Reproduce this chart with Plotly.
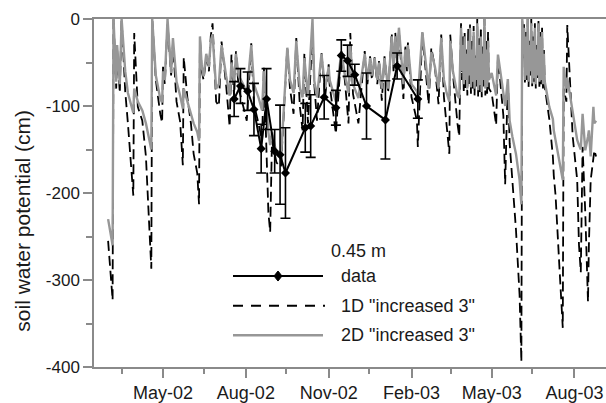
import pandas as pd
import plotly.graph_objects as go

# ---------------- observed soil water potential at 0.45 m ----------------
obs_dates = ["2002-07-19", "2002-07-26", "2002-08-03", "2002-08-10", "2002-08-18",
             "2002-08-24", "2002-09-02", "2002-09-08", "2002-09-14", "2002-10-06",
             "2002-10-12", "2002-10-27", "2002-11-09", "2002-11-15", "2002-11-22",
             "2002-11-30", "2002-12-13", "2003-01-03", "2003-01-16", "2003-02-08"]
obs_psi = [-92, -77, -83, -104, -149, -92, -152, -156, -177, -125,
           -123, -90, -102, -42, -48, -64, -100, -116, -54, -92]
obs_err = [20, 20, 22, 30, 28, 35, 25, 57, 52, 28,
           36, 25, 20, 18, 18, 12, 38, 45, 15, 22]

# ---------------- simulations, Mar 2002 - Mar 2003 (turning points) ----------------
sim_dates = [
    "2002-03-01", "2002-03-06", "2002-03-07", "2002-03-10", "2002-03-11", "2002-03-14",
    "2002-03-16", "2002-03-20", "2002-03-23", "2002-03-26", "2002-03-29", "2002-03-30",
    "2002-04-03", "2002-04-08", "2002-04-12", "2002-04-15", "2002-04-18", "2002-04-19",
    "2002-04-23", "2002-04-28", "2002-04-30",
    "2002-05-01", "2002-05-03", "2002-05-06", "2002-05-10", "2002-05-12", "2002-05-16",
    "2002-05-20", "2002-05-23", "2002-05-24", "2002-05-28",
    "2002-06-01", "2002-06-04", "2002-06-08", "2002-06-10", "2002-06-11", "2002-06-13",
    "2002-06-15", "2002-06-18", "2002-06-21", "2002-06-23", "2002-06-25", "2002-06-29",
    "2002-07-02", "2002-07-05", "2002-07-10", "2002-07-14", "2002-07-16", "2002-07-19",
    "2002-07-21", "2002-07-24", "2002-07-29",
    "2002-08-02", "2002-08-07", "2002-08-10", "2002-08-15", "2002-08-19", "2002-08-21",
    "2002-08-24", "2002-08-26", "2002-08-28", "2002-08-30",
    "2002-09-04", "2002-09-09", "2002-09-16", "2002-09-19", "2002-09-23", "2002-09-26",
    "2002-09-30",
    "2002-10-03", "2002-10-05", "2002-10-09", "2002-10-14", "2002-10-16", "2002-10-19",
    "2002-10-24", "2002-10-28",
    "2002-11-01", "2002-11-02", "2002-11-09", "2002-11-15", "2002-11-19", "2002-11-23",
    "2002-11-25", "2002-11-28",
    "2002-12-04", "2002-12-11", "2002-12-14", "2002-12-17", "2002-12-19", "2002-12-22",
    "2002-12-25", "2002-12-27", "2002-12-30",
    "2003-01-02", "2003-01-06", "2003-01-10", "2003-01-12", "2003-01-14", "2003-01-16",
    "2003-01-18", "2003-01-23", "2003-01-25", "2003-01-27", "2003-01-28",
    "2003-02-01", "2003-02-07", "2003-02-08", "2003-02-13", "2003-02-18", "2003-02-20",
    "2003-02-23", "2003-02-27",
    "2003-03-03", "2003-03-06", "2003-03-09", "2003-03-12", "2003-03-15", "2003-03-16",
    "2003-03-19", "2003-03-24", "2003-03-26", "2003-03-28",
]
sim_1d = [
    -255, -323, 0, -80, -35, -85,
    0, -83, -120, -162, -203, -16,
    -101, -117, -158, -223, -287, 0,
    -70, -110, -119,
    -55, -75, -5, -65, -28, -95,
    -118, -168, -44, -90,
    -120, -155, -177, -213, -20, -60,
    -70, -45, -60, -20, -5, -95,
    -100, -26, -75, -124, -41, -90,
    -37, -80, -100,
    -117, -28, -98, -120, -140, -55,
    -169, -222, -245, -140,
    -165, -170, -33, -80, -109, -22,
    -101,
    -128, -39, -120, -15, -75, -117,
    -39, -90,
    -52, -75, -132, -37, -71, -120,
    -16, -86,
    -120, -37, -75, -43, -70, -44,
    -75, -47, -94,
    -43, -85, -16, -60, -16, -55,
    -13, -92, -30, -60, -27,
    -90, -117, -147, -16, -71, -98,
    -33, -56,
    -98, -18, -90, -120, -155, -18,
    -63, -120, -135, -5,
]
sim_2d = [
    -230, -260, 0, -72, -30, -75,
    0, -60, -85, -98, -108, -80,
    -95, -105, -120, -135, -150, 0,
    -65, -92, -96,
    -60, -70, 0, -62, -22, -72,
    -88, -103, -80, -95,
    -110, -120, -130, -140, -20, -54,
    -66, -40, -55, -25, -18, -80,
    -75, -30, -65, -88, -50, -75,
    -40, -65, -75,
    -85, -30, -75, -90, -105, -60,
    -110, -130, -145, -130,
    -155, -160, -33, -70, -85, -25,
    -80,
    -90, -45, -90, 0, -71, -90,
    -40, -80,
    -55, -70, -95, -37, -65, -85,
    -30, -75,
    -91, -40, -70, -45, -65, -45,
    -70, -50, -80,
    -45, -80, -20, -55, -20, -50,
    -10, -75, -35, -55, -30,
    -75, -83, -90, -15, -65, -80,
    -38, -55,
    -80, -22, -70, -85, -95, -25,
    -60, -88, -91, -10,
]

# daily values through the wet spell of spring 2003
wet1_start = "2003-03-29"
wet1_1d = [-70, -20, -85, -15, -80, -35, -88, -10, -75, -5,
           -86, -25, -80, -8, -88, -40, -78, 0, -90, -20,
           -84, -10, -90, -30, -78, 0, -88, -25, -86, -15]
wet1_2d = [-60, -30, -75, -20, -70, -40, -80, -25, -65, -10,
           -78, -35, -72, -15, -80, -45, -70, -5, -82, -30,
           -76, -20, -84, -40, -70, 0, -80, -35, -78, -25]

# drying phase of May 2003
spring_dates = ["2003-04-28", "2003-05-01", "2003-05-06", "2003-05-08", "2003-05-14",
                "2003-05-16", "2003-05-19", "2003-05-21", "2003-05-24", "2003-05-28",
                "2003-06-01", "2003-06-03", "2003-06-04"]
spring_1d = [-80, -85, -122, -43, -111, -190, -69, -143, -185, -242, -317, -394, 0]
spring_2d = [-70, -62, -88, -41, -85, -100, -69, -117, -135, -155, -185, -213, 0]

# daily values through the wet spell of June 2003
wet2_start = "2003-06-05"
wet2_1d = [-45, -5, -75, -15, -70, 0, -78, -25, -65, 0,
           -80, -20, -72, -5, -80, -30, -70, 0, -78, -15,
           -75, -10, -80, -35, -78]
wet2_2d = [-40, -10, -70, -20, -65, 0, -72, -30, -60, -5,
           -74, -25, -68, -10, -75, -35, -65, -5, -72, -20,
           -70, -15, -75, -40, -72]

# summer 2003
late_dates = ["2003-07-04", "2003-07-08", "2003-07-09", "2003-07-11", "2003-07-15",
              "2003-07-19", "2003-07-20", "2003-07-23", "2003-07-24", "2003-07-30",
              "2003-08-04", "2003-08-06", "2003-08-08", "2003-08-10", "2003-08-13",
              "2003-08-16", "2003-08-17", "2003-08-19", "2003-08-22", "2003-08-23",
              "2003-08-25"]
late_1d = [-115, -158, -180, -203, -280, -355, -80, -95, -7, -135,
           -185, -260, -291, -147, -223, -325, -260, -185, -160, -151, -158]
late_2d = [-101, -115, -128, -140, -160, -185, -55, -80, -68, -109,
           -139, -145, -150, -109, -151, -135, -128, -158, -101, -120, -117]

# axis ticks
x_ticks = ["2002-05-01", "2002-08-01", "2002-11-01", "2003-02-01", "2003-05-01", "2003-08-01"]
x_minor = ["2002-03-16", "2002-06-15", "2002-09-15", "2002-12-16", "2003-03-17", "2003-06-15"]
y_ticks = [0, -100, -200, -300, -400]
y_labels = ["0", "-100", "-200", "-300", "-400"]
y_minor = [-50, -150, -250, -350]


def daily(start, n):
    return pd.date_range(start, periods=n, freq="D").strftime("%Y-%m-%d").tolist()


all_dates = (sim_dates + daily(wet1_start, len(wet1_1d)) + spring_dates
             + daily(wet2_start, len(wet2_1d)) + late_dates)
all_1d = sim_1d + wet1_1d + spring_1d + wet2_1d + late_1d
all_2d = sim_2d + wet1_2d + spring_2d + wet2_2d + late_2d

FONT = "Liberation Sans, Arial, Helvetica, sans-serif"
TXT = "#1a1a1a"
AXC = "#8a8a8a"
GRAY = "#979797"

fig = go.Figure()
fig.add_trace(go.Scatter(x=all_dates, y=all_1d, mode="lines", name='1D "increased 3"',
                         line=dict(color="black", width=1.8, dash="10px,5px"),
                         showlegend=False))
fig.add_trace(go.Scatter(x=all_dates, y=all_2d, mode="lines", name='2D "increased 3"',
                         line=dict(color=GRAY, width=2.4), showlegend=False))
fig.add_trace(go.Scatter(x=obs_dates, y=obs_psi, mode="lines+markers", name="data",
                         line=dict(color="black", width=2),
                         marker=dict(symbol="diamond", size=7, color="black"),
                         error_y=dict(type="data", array=obs_err, color="black",
                                      thickness=1.6, width=5),
                         showlegend=False))

# plot area in pixels
L, T, W, H = 94, 19, 512, 352


def pp(xp, yp):
    return (xp - L) / W, (T + H - yp) / H


shapes = []
anns = []
# legend block
lx0, lx1 = 233, 323
for yp, col, dash, wd in [(279, "black", "solid", 2), (309, "black", "10px,8px", 2),
                          (339, GRAY, "solid", 2.5)]:
    x0, y0 = pp(lx0, yp)
    x1, _ = pp(lx1 + (2 if dash != "solid" else 0), yp)
    shapes.append(dict(type="line", xref="paper", yref="paper", x0=x0, x1=x1, y0=y0, y1=y0,
                       line=dict(color=col, width=wd, dash=dash)))
dx, dy = pp(278, 279)
shapes.append(dict(type="path", xref="paper", yref="paper", xsizemode="pixel",
                   ysizemode="pixel", xanchor=dx, yanchor=dy,
                   path="M0,5 L4,0 L0,-5 L-4,0 Z", fillcolor="black",
                   line=dict(color="black", width=1)))

for text, xp, yp in [("0.45 m", 329, 254), ("data", 339, 279),
                     ('1D "increased 3"', 339, 309), ('2D "increased 3"', 339, 339)]:
    ax, ay = pp(xp, yp)
    anns.append(dict(text=text, xref="paper", yref="paper", x=ax, y=ay, xanchor="left",
                     yanchor="middle", showarrow=False,
                     font=dict(family=FONT, size=18, color=TXT)))

# y-axis title
tx, ty = pp(23, 223)
anns.append(dict(text="soil water potential (cm)", xref="paper", yref="paper", x=tx, y=ty,
                 xanchor="center", yanchor="middle", textangle=-90, showarrow=False,
                 font=dict(family=FONT, size=21, color=TXT)))

fig.update_layout(
    width=606, height=403,
    margin=dict(l=L, r=606 - L - W, t=T, b=403 - T - H, pad=0),
    paper_bgcolor="white", plot_bgcolor="white",
    showlegend=False,
    shapes=shapes, annotations=anns,
    font=dict(family=FONT, size=17, color=TXT),
    xaxis=dict(
        type="date", range=["2002-02-13 08:00", "2003-09-05"],
        showline=True, linecolor=AXC, linewidth=1.5, mirror=True,
        showgrid=False, zeroline=False,
        ticks="outside", ticklen=9, tickwidth=1.5, tickcolor=AXC,
        tickmode="array", tickvals=x_ticks, tickformat="%b-%y",
        tickfont=dict(family=FONT, size=18, color=TXT),
        minor=dict(tickmode="array", tickvals=x_minor, ticks="outside", ticklen=5,
                   tickwidth=1.5, tickcolor=AXC, showgrid=False),
    ),
    yaxis=dict(
        range=[-400, 0],
        showline=True, linecolor=AXC, linewidth=1.5,
        showgrid=False, zeroline=False,
        ticks="outside", ticklen=9, tickwidth=1.5, tickcolor=AXC,
        tickmode="array", tickvals=y_ticks, ticktext=y_labels,
        tickfont=dict(family=FONT, size=17, color=TXT),
        minor=dict(tickmode="array", tickvals=y_minor, ticks="outside", ticklen=6,
                   tickwidth=1.5, tickcolor=AXC, showgrid=False),
    ),
)

fig.write_html("out.html", config={"displayModeBar": False})
